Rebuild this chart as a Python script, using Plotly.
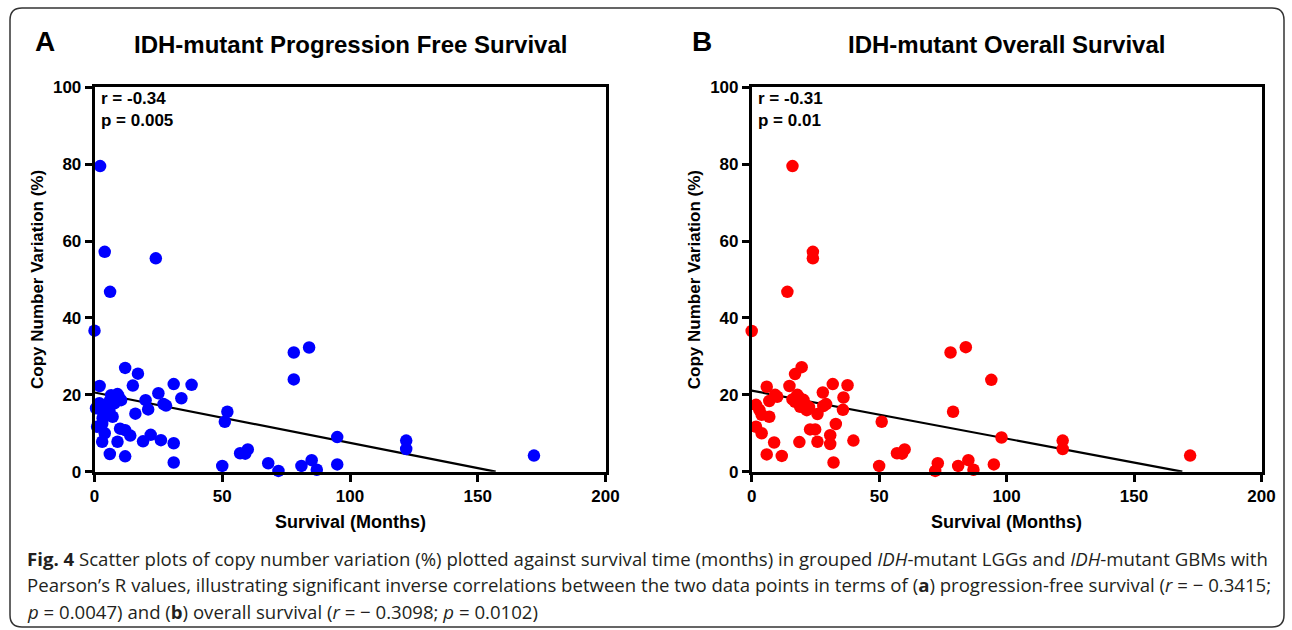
import plotly.graph_objects as go

W, H = 1292, 630

# ---------------- data ----------------
pfs_months = [2.2, 4, 6.1, 24, 0,
              78, 84, 78, 52, 51, 95, 122, 122, 172, 60, 57, 59, 50, 68, 72, 81, 85, 87, 95,
              2, 15, 17, 12, 31, 38, 25, 34, 20, 21, 27, 28, 16,
              6.5, 9, 10.4, 5.8, 7.8, 1.9, 0.6, 3.2, 5.8, 7.1, 3.2, 9.5, 4, 8,
              1, 3, 4, 3, 10, 12, 14, 9, 19, 22, 26, 31, 6, 12, 31]
pfs_cnv = [79.5, 57.2, 46.8, 55.5, 36.7,
           31, 32.3, 24, 15.6, 13, 9, 8.1, 5.9, 4.2, 5.8, 4.8, 4.7, 1.5, 2.2, 0.2, 1.5, 3, 0.5, 1.9,
           22.3, 22.4, 25.5, 27, 22.8, 22.6, 20.4, 19.1, 18.6, 16.2, 17.6, 17.2, 15.1,
           19.9, 20.2, 18.6, 18.2, 17.8, 17.8, 16.5, 15.6, 16, 14.3, 13.9, 19.5, 17, 18.8,
           11.7, 12.4, 10, 7.8, 11.2, 10.8, 9.4, 7.8, 7.9, 9.6, 8.2, 7.4, 4.6, 4, 2.4]

os_months = [16, 24, 24, 14, 0,
             78, 84, 94, 79, 51, 98, 122, 122, 172, 60, 57, 59, 50, 73, 72, 81, 85, 87, 95,
             1.7, 3, 3.9, 6.9, 6.9, 5.9, 9.2, 10, 1.7, 3.9, 8.8, 5.9, 11.8,
             18.7, 25.8, 22.9, 24.9, 30.8, 30.8, 32.1, 33, 39.9, 25.8, 28.1, 29.2, 27.9,
             31.8, 37.6, 36, 35.8, 21.6, 17, 19.6, 14.8, 17.9, 17, 19, 20.3,
             21, 18.5, 16, 22.5]
os_cnv = [79.5, 57.2, 55.5, 46.8, 36.6,
          31, 32.4, 23.9, 15.6, 13, 8.9, 8.1, 5.9, 4.2, 5.8, 4.8, 4.7, 1.5, 2.2, 0.2, 1.5, 3, 0.5, 1.9,
          17.4, 16.1, 14.8, 14.3, 18.4, 22.1, 20, 19.5, 11.7, 10, 7.6, 4.5, 4.1,
          7.7, 7.8, 11, 11, 9.5, 7.2, 2.4, 12.4, 8.1, 15, 17.1, 17.6, 20.6,
          22.8, 22.5, 19.3, 16.1, 16, 25.4, 27.2, 22.3, 20, 18.2, 16.9, 18.7,
          17.5, 19.3, 18.8, 16.8]

# regression lines (intercept, slope)
pfs_fit = [20.6, -0.1312]
os_fit = [21.1, -0.1249]

panel_titles = ["IDH-mutant Progression Free Survival", "IDH-mutant Overall Survival"]
panel_letters = ["A", "B"]
stats_text = [["r = -0.34", "p = 0.005"], ["r = -0.31", "p = 0.01"]]
x_ticks = [0, 50, 100, 150, 200]
y_ticks = [0, 20, 40, 60, 80, 100]

# ---------------- helpers ----------------
def px(x):
    return x / W

def py(y):
    return 1 - y / H

FONT = "Liberation Sans, Arial, sans-serif"

fig = go.Figure()

def fit_line(fit):
    b, m = fit
    x_end = -b / m
    return [0, x_end], [b, b + m * x_end]

for i, (xs, ys, col, fit) in enumerate([
        (pfs_months, pfs_cnv, "#0000FF", pfs_fit),
        (os_months, os_cnv, "#FF0000", os_fit)]):
    xa = "x" if i == 0 else "x2"
    ya = "y" if i == 0 else "y2"
    lx, ly = fit_line(fit)
    fig.add_trace(go.Scatter(x=lx, y=ly, mode="lines", xaxis=xa, yaxis=ya,
                             line=dict(color="black", width=2.2), showlegend=False,
                             hoverinfo="skip"))
    fig.add_trace(go.Scatter(x=xs, y=ys, mode="markers", xaxis=xa, yaxis=ya,
                             marker=dict(color=col, size=12.5, line=dict(width=0)),
                             cliponaxis=False, showlegend=False))

# axis pixel geometry
x_px = [(94.5, 605.5), (751.7, 1261.5)]
y_top, y_bot = 87.3, 471.7

axis_common = dict(showline=True, linecolor="black", linewidth=2.6, mirror=True,
                   ticks="outside", ticklen=7, tickwidth=2.6, tickcolor="black",
                   showgrid=False, zeroline=False, automargin=False,
                   tickfont=dict(family=FONT, size=17, color="black", weight="bold"))

layout_axes = {}
for i in range(2):
    sx = "" if i == 0 else "2"
    layout_axes["xaxis" + sx] = dict(axis_common, domain=[px(x_px[i][0]), px(x_px[i][1])],
                                     range=[0, 200], tickvals=x_ticks, anchor="y" + sx)
    layout_axes["yaxis" + sx] = dict(axis_common, domain=[py(y_bot), py(y_top)],
                                     range=[0, 100], tickvals=y_ticks, anchor="x" + sx)

annotations = []
for i in range(2):
    x0, x1 = x_px[i]
    cx = (x0 + x1) / 2
    # panel letter
    annotations.append(dict(text=f"<b>{panel_letters[i]}</b>", x=px(x0 - 62), y=py(42),
                            xref="paper", yref="paper", xanchor="left", yanchor="middle",
                            showarrow=False, font=dict(family=FONT, size=28, color="black")))
    # title
    annotations.append(dict(text=f"<b>{panel_titles[i]}</b>", x=px(cx), y=py(45),
                            xref="paper", yref="paper", xanchor="center", yanchor="middle",
                            showarrow=False, font=dict(family=FONT, size=24, color="black")))
    # stats
    for j, t in enumerate(stats_text[i]):
        annotations.append(dict(text=f"<b>{t}</b>", x=px(x0 + 4), y=py(98 + 23 * j),
                                xref="paper", yref="paper", xanchor="left", yanchor="middle",
                                showarrow=False, font=dict(family=FONT, size=17, color="black")))
    # x title
    annotations.append(dict(text="<b>Survival (Months)</b>", x=px(cx), y=py(522),
                            xref="paper", yref="paper", xanchor="center", yanchor="middle",
                            showarrow=False, font=dict(family=FONT, size=18, color="black")))
    # y title
    annotations.append(dict(text="<b>Copy Number Variation (%)</b>", x=px(x0 - 57),
                            y=py((y_top + y_bot) / 2), textangle=-90,
                            xref="paper", yref="paper", xanchor="center", yanchor="middle",
                            showarrow=False, font=dict(family=FONT, size=17, color="black")))

caption = [
    "<b>Fig. 4</b> Scatter plots of copy number variation (%) plotted against survival time (months) in grouped <i>IDH</i>-mutant LGGs and <i>IDH</i>-mutant GBMs with",
    "Pearson\u2019s R values, illustrating significant inverse correlations between the two data points in terms of (<b>a</b>) progression-free survival (<i>r</i> = \u2212 0.3415;",
    "<i>p</i> = 0.0047) and (<b>b</b>) overall survival (<i>r</i> = \u2212 0.3098; <i>p</i> = 0.0102)",
]
for k, line in enumerate(caption):
    annotations.append(dict(text=line, x=px(25), y=py(558 + 26.5 * k), xref="paper", yref="paper",
                            xanchor="left", yanchor="middle", showarrow=False,
                            font=dict(family="Open Sans, Noto Sans, sans-serif", size=18.6,
                                      color="#231f20")))

# rounded border
L, R, T, B, rad = 10, 1284, 8, 627, 12
path = (f"M {px(L + rad)} {py(T)} L {px(R - rad)} {py(T)} Q {px(R)} {py(T)} {px(R)} {py(T + rad)} "
        f"L {px(R)} {py(B - rad)} Q {px(R)} {py(B)} {px(R - rad)} {py(B)} "
        f"L {px(L + rad)} {py(B)} Q {px(L)} {py(B)} {px(L)} {py(B - rad)} "
        f"L {px(L)} {py(T + rad)} Q {px(L)} {py(T)} {px(L + rad)} {py(T)} Z")

fig.update_layout(
    template="none",
    width=W, height=H, margin=dict(l=0, r=0, t=0, b=0, pad=0, autoexpand=False),
    paper_bgcolor="white", plot_bgcolor="white",
    showlegend=False,
    annotations=annotations,
    shapes=[dict(type="path", path=path, xref="paper", yref="paper",
                 line=dict(color="#333333", width=1.5), layer="below")],
    **layout_axes,
)

fig.write_html("out.html", config={"displayModeBar": False})
